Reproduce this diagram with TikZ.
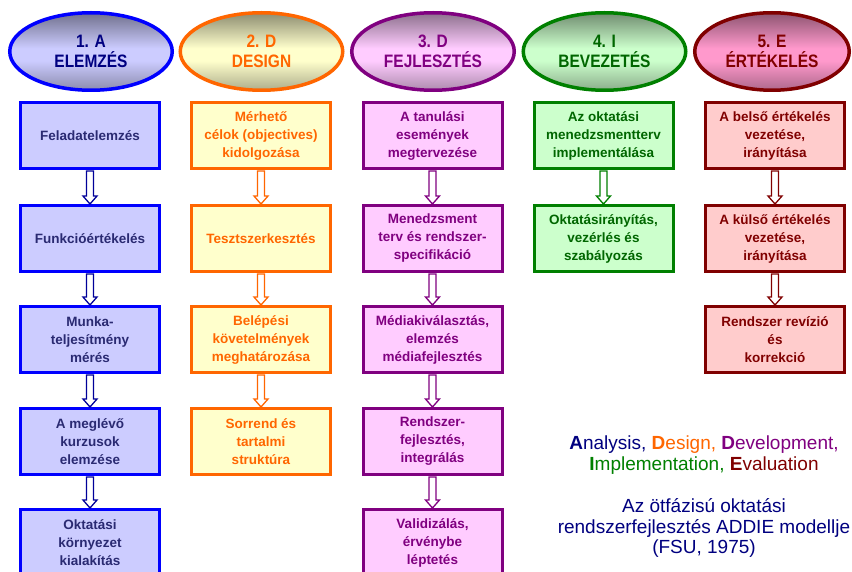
\documentclass[tikz,border=0pt]{standalone}
\usepackage{fontspec}
\setmainfont{Liberation Sans}
\newfontfamily\headfont[FakeStretch=0.86]{Liberation Sans}
\usetikzlibrary{shapes.geometric,calc}

% phase colours: border, fill, text
\definecolor{aLine}{HTML}{0000FF}\definecolor{aFill}{HTML}{CCCCFF}\definecolor{aText}{HTML}{2A2A72}\definecolor{aHead}{HTML}{000080}
\definecolor{dLine}{HTML}{FF6600}\definecolor{dFill}{HTML}{FFFFCC}\definecolor{dText}{HTML}{FF6600}
\definecolor{vLine}{HTML}{800080}\definecolor{vFill}{HTML}{FFCCFF}\definecolor{vText}{HTML}{800080}
\definecolor{iLine}{HTML}{008000}\definecolor{iFill}{HTML}{CCFFCC}\definecolor{iText}{HTML}{006600}
\definecolor{eLine}{HTML}{800000}\definecolor{eFill}{HTML}{FFCCCC}\definecolor{eText}{HTML}{800000}
\definecolor{eOval}{HTML}{FF99CC}

% heading ovals: dark at the top, light band a little below the middle
\colorlet{ovtop}{gray}\colorlet{ovmid}{white}\colorlet{ovbot}{gray}
\pgfdeclareverticalshading[ovtop,ovmid,ovbot]{ovalshade}{100bp}{%
  color(0bp)=(ovbot); color(25bp)=(ovbot); color(44bp)=(ovmid);
  color(52bp)=(ovmid); color(75bp)=(ovtop); color(100bp)=(ovtop)}

\tikzset{
  phase/.style n args={3}{ellipse, draw=#1, line width=3.5pt,
    /utils/exec={\colorlet{ovmid}{#2}\colorlet{ovtop}{#2!55!black}\colorlet{ovbot}{#2!68!black}},
    shade, shading=ovalshade,
    text=#3, minimum width=162.5pt, minimum height=77.5pt, inner sep=0pt,
    font=\headfont\fontsize{18}{20}\selectfont\bfseries, align=center},
  stepbox/.style n args={3}{rectangle, draw=#1, fill=#2, text=#3,
    line width=3pt, minimum width=139pt, minimum height=66pt, inner sep=1pt,
    font=\fontsize{13.5}{18}\selectfont\bfseries, align=center},
  caption/.style={font=\fontsize{19}{20.5}\selectfont, align=center},
}

% hollow block arrow from the bottom of #1 to the top of #2, outlined in #3
\newcommand\flowarrow[3]{%
  \draw[line width=1.3pt, draw=#3, fill=white, line join=miter]
    ($(#1.south)+(-3.5,1)$) -- ($(#2.north)+(-3.5,-8)$) -- ($(#2.north)+(-7,-8)$)
    -- (#2.north) -- ($(#2.north)+(7,-8)$) -- ($(#2.north)+(3.5,-8)$)
    -- ($(#1.south)+(3.5,1)$) -- cycle;}

\begin{document}
\begin{tikzpicture}[x=1pt, y=-1pt]
  \useasboundingbox (0,0) rectangle (852,572);
  \clip (0,0) rectangle (852,572);
  \fill[white] (0,0) rectangle (852,572);

  % phase headings
  \node[phase={aLine}{aFill}{aHead}] (h1) at (91,51.5) {1. A\\ELEMZÉS};
  \node[phase={dLine}{dFill}{dText}] (h2) at (261.5,51.5) {2. D\\DESIGN};
  \node[phase={vLine}{vFill}{vText}] (h3) at (433,51.5) {3. D\\FEJLESZTÉS};
  \node[phase={iLine}{iFill}{iText}] (h4) at (604.5,51.5) {4. I\\BEVEZETÉS};
  \node[phase={eLine}{eOval}{eText}, minimum width=154.5pt] (h5) at (772,51.5) {5. E\\ÉRTÉKELÉS};

  % 1. analysis
  \node[stepbox={aLine}{aFill}{aText}] (a1) at (90,135.5) {Feladatelemzés};
  \node[stepbox={aLine}{aFill}{aText}] (a2) at (90,238.5) {Funkcióértékelés};
  \node[stepbox={aLine}{aFill}{aText}] (a3) at (90,339.5) {Munka-\\teljesítmény\\mérés};
  \node[stepbox={aLine}{aFill}{aText}] (a4) at (90,441.5) {A meglévő\\kurzusok\\elemzése};
  \node[stepbox={aLine}{aFill}{aText}] (a5) at (90,542.5) {Oktatási\\környezet\\kialakítás};

  % 2. design
  \node[stepbox={dLine}{dFill}{dText}] (d1) at (261,135.5) {Mérhető\\célok (objectives)\\kidolgozása};
  \node[stepbox={dLine}{dFill}{dText}] (d2) at (261,238.5) {Tesztszerkesztés};
  \node[stepbox={dLine}{dFill}{dText}] (d3) at (261,339.5) {Belépési\\követelmények\\meghatározása};
  \node[stepbox={dLine}{dFill}{dText}] (d4) at (261,441.5) {Sorrend és\\tartalmi\\struktúra};

  % 3. development
  \node[stepbox={vLine}{vFill}{vText}] (v1) at (432.5,135.5) {A tanulási\\események\\megtervezése};
  \node[stepbox={vLine}{vFill}{vText}] (v2) at (432.5,238.5) {Menedzsment\\terv és rendszer-\\specifikáció};
  \node[stepbox={vLine}{vFill}{vText}] (v3) at (432.5,339.5) {Médiakiválasztás,\\elemzés\\médiafejlesztés};
  \node[stepbox={vLine}{vFill}{vText}] (v4) at (432.5,441.5) {Rendszer-\\fejlesztés,\\integrálás};
  \node[stepbox={vLine}{vFill}{vText}] (v5) at (432.5,542.5) {Validizálás,\\érvénybe\\léptetés};

  % 4. implementation
  \node[stepbox={iLine}{iFill}{iText}] (i1) at (603.5,135.5) {Az oktatási\\menedzsmentterv\\implementálása};
  \node[stepbox={iLine}{iFill}{iText}] (i2) at (603.5,238.5) {Oktatásirányítás,\\vezérlés és\\szabályozás};

  % 5. evaluation
  \node[stepbox={eLine}{eFill}{eText}] (e1) at (775,135.5) {A belső értékelés\\vezetése,\\irányítása};
  \node[stepbox={eLine}{eFill}{eText}] (e2) at (775,238.5) {A külső értékelés\\vezetése,\\irányítása};
  \node[stepbox={eLine}{eFill}{eText}] (e3) at (775,339.5) {Rendszer revízió\\és\\korrekció};

  % flow arrows
  \flowarrow{a1}{a2}{aHead!80!aLine}\flowarrow{a2}{a3}{aHead!80!aLine}
  \flowarrow{a3}{a4}{aHead!80!aLine}\flowarrow{a4}{a5}{aHead!80!aLine}
  \flowarrow{d1}{d2}{dLine}\flowarrow{d2}{d3}{dLine}\flowarrow{d3}{d4}{dLine}
  \flowarrow{v1}{v2}{vLine}\flowarrow{v2}{v3}{vLine}
  \flowarrow{v3}{v4}{vLine}\flowarrow{v4}{v5}{vLine}
  \flowarrow{i1}{i2}{iLine}
  \flowarrow{e1}{e2}{eLine}\flowarrow{e2}{e3}{eLine}

  % captions
  \node[caption] (names) at (704,455) {%
    \textcolor{aHead}{\textbf{A}nalysis,} \textcolor{dLine}{\textbf{D}esign,}
    \textcolor{vLine}{\textbf{D}evelopment,}\\
    \textcolor{iLine}{\textbf{I}mplementation,} \textcolor{eLine}{\textbf{E}valuation}};
  \node[caption, text=aHead] (title) at (704,528) {Az ötfázisú oktatási\\rendszerfejlesztés ADDIE modellje\\(FSU, 1975)};
\end{tikzpicture}
\end{document}
